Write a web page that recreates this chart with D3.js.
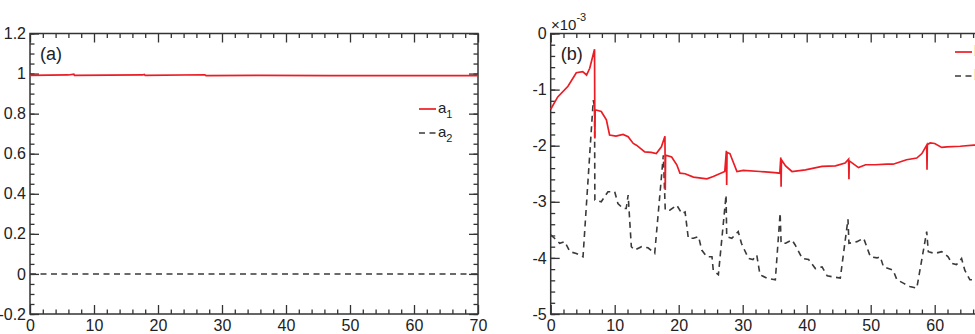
<!DOCTYPE html>
<html>
<head>
<meta charset="utf-8">
<script src="https://cdn.jsdelivr.net/npm/d3@7"></script>
<style>
  body { margin: 0; background: #fff; }
  svg { display: block; overflow: hidden; }
  text { font-family: "Liberation Sans", Arial, sans-serif; fill: #222; }
  .tick line { stroke: #333; stroke-width: 1.3; }
  .frame { fill: none; stroke: #333; stroke-width: 1.5; }
</style>
</head>
<body>
<div id="chart"></div>
<script>
  // panel (a)
  var a1T = [0, 6.0, 6.85, 6.95, 17.6, 17.85, 18.0, 27.3, 27.5, 36.0, 46.6, 58.8, 70];
  var a1V = [0.991, 0.993, 0.997, 0.991, 0.993, 0.996, 0.991, 0.994, 0.990, 0.991, 0.990, 0.990, 0.990];
  var a2T = [0, 70];
  var a2V = [0, 0];

  // panel (b), values in units of 1e-3
  var b1T = [0, 1.1, 2.7, 4.0, 5.0, 5.6, 6.1, 6.85, 6.9, 6.95, 7.9, 8.7, 9.2, 10.2, 11.3, 12.1, 12.9, 13.4,
    14.7, 15.7, 16.5, 17.3, 17.85, 17.9, 17.95, 18.9, 19.7, 20.2, 21.0, 22.3, 24.4, 25.4, 27.2, 27.45, 27.5,
    27.55, 28.0, 29.1, 30.1, 32.7, 35.0, 35.8, 35.95, 36.0, 36.05, 36.7, 37.7, 39.8, 42.4, 44.5, 46.0, 46.55,
    46.6, 46.65, 48.1, 49.2, 50.7, 52.5, 53.5, 55.6, 57.2, 58.0, 58.75, 58.8, 58.85, 59.3, 60.0, 61.1, 61.9,
    64.0, 66.1, 68.0, 70.0];
  var b1V = [-1.35, -1.13, -0.94, -0.70, -0.68, -0.74, -0.62, -0.28, -1.87, -1.36, -1.39, -1.54, -1.81, -1.83,
    -1.80, -1.84, -1.96, -1.99, -2.11, -2.12, -2.14, -2.02, -1.83, -2.79, -2.17, -2.20, -2.34, -2.49, -2.50,
    -2.56, -2.59, -2.55, -2.46, -2.09, -2.70, -2.12, -2.14, -2.46, -2.44, -2.46, -2.48, -2.49, -2.21, -2.73,
    -2.25, -2.36, -2.46, -2.43, -2.37, -2.36, -2.31, -2.24, -2.60, -2.27, -2.39, -2.34, -2.34, -2.33, -2.33,
    -2.25, -2.22, -2.14, -1.99, -2.43, -1.98, -1.95, -1.96, -2.03, -2.02, -2.01, -1.99, -1.99, -1.98];

  var b2T = [0, 0.6, 1.4, 2.2, 3.0, 4.0, 5.05, 6.65, 6.85, 6.9, 7.9, 8.95, 10.0, 10.5, 11.3, 11.8, 12.1, 12.6,
    13.1, 14.2, 15.2, 16.25, 17.6, 17.9, 18.6, 19.7, 20.5, 21.0, 21.5, 22.3, 23.1, 23.6, 24.4, 25.2, 25.4,
    26.2, 27.4, 27.5, 28.3, 29.3, 29.8, 30.9, 31.6, 32.2, 32.7, 33.75, 35.1, 35.85, 36.0, 36.7, 37.7, 38.2,
    39.3, 40.3, 41.35, 42.4, 43.2, 44.2, 45.25, 46.45, 46.6, 47.85, 48.9, 49.95, 51.0, 51.5, 52.0, 53.5, 54.1,
    55.1, 56.1, 57.2, 58.75, 59.0, 60.0, 61.1, 62.1, 62.7, 63.4, 64.2, 64.7, 65.5, 66.2, 68.0, 70.0];
  var b2V = [-3.59, -3.65, -3.74, -3.71, -3.89, -3.92, -3.98, -1.19, -1.30, -2.97, -3.00, -2.82, -2.82, -3.03,
    -3.12, -3.12, -2.88, -3.80, -3.86, -3.80, -3.82, -3.92, -2.17, -3.15, -3.15, -3.06, -3.21, -3.18, -3.65,
    -3.65, -3.62, -3.86, -3.98, -3.98, -4.22, -4.30, -2.88, -3.62, -3.65, -3.53, -3.74, -4.01, -4.03, -3.95,
    -4.30, -4.36, -4.39, -3.20, -3.74, -3.74, -3.68, -3.77, -4.01, -4.03, -4.19, -4.16, -4.32, -4.34, -4.36,
    -3.31, -3.74, -3.71, -3.65, -3.98, -4.00, -3.98, -4.16, -4.22, -4.39, -4.45, -4.51, -4.54, -3.53, -3.89,
    -3.92, -3.89, -3.98, -4.10, -4.12, -4.01, -4.22, -4.39, -4.39, -4.45, -4.50];

  var xTicks = [0, 10, 20, 30, 40, 50, 60, 70];
  var aTicks = [-0.2, 0, 0.2, 0.4, 0.6, 0.8, 1, 1.2];
  var bTicks = [-5, -4, -3, -2, -1, 0];

  var W = 975, H = 334;
  var RED = '#ec1c24', DARK = '#3a3a3a';

  var svg = d3.select('#chart').append('svg')
    .attr('width', W)
    .attr('height', H);

  function zip(t, v) {
    return t.map(function (d, i) { return [d, v[i]]; });
  }

  function drawPanel(settings) {
    var x = d3.scaleLinear().domain([0, 70]).range([settings.left, settings.left + 448]);
    var y = d3.scaleLinear().domain(settings.yDomain).range([314, 33.5]);

    var xMinor = d3.range(0, 70.01, 2).filter(function (d) { return d % 10 !== 0; });
    var yMinor = d3.range(settings.yDomain[0], settings.yDomain[1] + 1e-9, settings.yMinorStep)
      .map(function (d) { return +d.toFixed(4); });

    function addAxis(axis, transform, hideLabels) {
      var g = svg.append('g').attr('transform', transform).call(axis);
      g.select('.domain').remove();
      if (hideLabels) g.selectAll('text').remove();
      return g;
    }

    var bottom = 'translate(0,' + y.range()[0] + ')';
    var top = 'translate(0,' + y.range()[1] + ')';
    var leftT = 'translate(' + x.range()[0] + ',0)';
    var rightT = 'translate(' + x.range()[1] + ',0)';

    // minor ticks
    addAxis(d3.axisBottom(x).tickValues(xMinor).tickSize(-4.5), bottom, true);
    addAxis(d3.axisTop(x).tickValues(xMinor).tickSize(-4.5), top, true);
    addAxis(d3.axisLeft(y).tickValues(yMinor).tickSize(-4.5), leftT, true);
    addAxis(d3.axisRight(y).tickValues(yMinor).tickSize(-4.5), rightT, true);

    // major ticks
    addAxis(d3.axisBottom(x).tickValues(xTicks).tickSize(-9).tickPadding(6).tickFormat(d3.format('d')), bottom, false);
    addAxis(d3.axisTop(x).tickValues(xTicks).tickSize(-9), top, true);
    addAxis(d3.axisLeft(y).tickValues(settings.yTicks).tickSize(-9).tickPadding(4)
      .tickFormat(function (d) { return String(+d.toFixed(2)); }), leftT, false);
    addAxis(d3.axisRight(y).tickValues(settings.yTicks).tickSize(-9), rightT, true);

    svg.selectAll('.tick text')
      .style('font-family', '"Liberation Sans", Arial, sans-serif')
      .style('font-size', '16px')
      .style('fill', '#222');

    svg.append('rect')
      .classed('frame', true)
      .attr('x', x.range()[0])
      .attr('y', y.range()[1])
      .attr('width', x.range()[1] - x.range()[0])
      .attr('height', y.range()[0] - y.range()[1]);

    var line = d3.line()
      .x(function (d) { return x(d[0]); })
      .y(function (d) { return y(d[1]); });

    svg.append('path')
      .attr('d', line(settings.s2))
      .attr('fill', 'none')
      .attr('stroke', DARK)
      .attr('stroke-width', 1.6)
      .attr('stroke-dasharray', '6,4.5');

    svg.append('path')
      .attr('d', line(settings.s1))
      .attr('fill', 'none')
      .attr('stroke', RED)
      .attr('stroke-width', 1.7);

    svg.append('text')
      .attr('x', x.range()[0] + 10)
      .attr('y', 60)
      .style('font-size', '18px')
      .text(settings.tag);

    // legend
    var lg = svg.append('g').attr('transform', 'translate(' + settings.legend[0] + ',' + settings.legend[1] + ')');
    [[RED, null, settings.names[0]], [DARK, '6,4.5', settings.names[1]]].forEach(function (it, i) {
      lg.append('line')
        .attr('x1', 0).attr('x2', 17)
        .attr('y1', i * 24).attr('y2', i * 24)
        .attr('stroke', it[0])
        .attr('stroke-width', 1.7)
        .attr('stroke-dasharray', it[1]);
      var t = lg.append('text')
        .attr('x', 19)
        .attr('y', i * 24 + 4)
        .style('font-size', '15px')
        .text(it[2]);
      t.append('tspan')
        .attr('dy', 5)
        .style('font-size', '11px')
        .text(String(i + 1));
    });

    return { x: x, y: y };
  }

  drawPanel({
    left: 30,
    yDomain: [-0.2, 1.2],
    yTicks: aTicks,
    yMinorStep: 0.05,
    s1: zip(a1T, a1V),
    s2: zip(a2T, a2V),
    tag: '(a)',
    names: ['a', 'a'],
    legend: [419, 109]
  });

  drawPanel({
    left: 550.7,
    yDomain: [-5, 0],
    yTicks: bTicks,
    yMinorStep: 0.2,
    s1: zip(b1T, b1V),
    s2: zip(b2T, b2V),
    tag: '(b)',
    names: ['b', 'b'],
    legend: [955, 52]
  });

  // exponent label of panel (b)
  var expo = svg.append('text')
    .attr('x', 551)
    .attr('y', 30)
    .style('font-size', '15px')
    .text('\u00d710');
  expo.append('tspan')
    .attr('dy', -9)
    .style('font-size', '11px')
    .text('-3');
</script>
</body>
</html>
